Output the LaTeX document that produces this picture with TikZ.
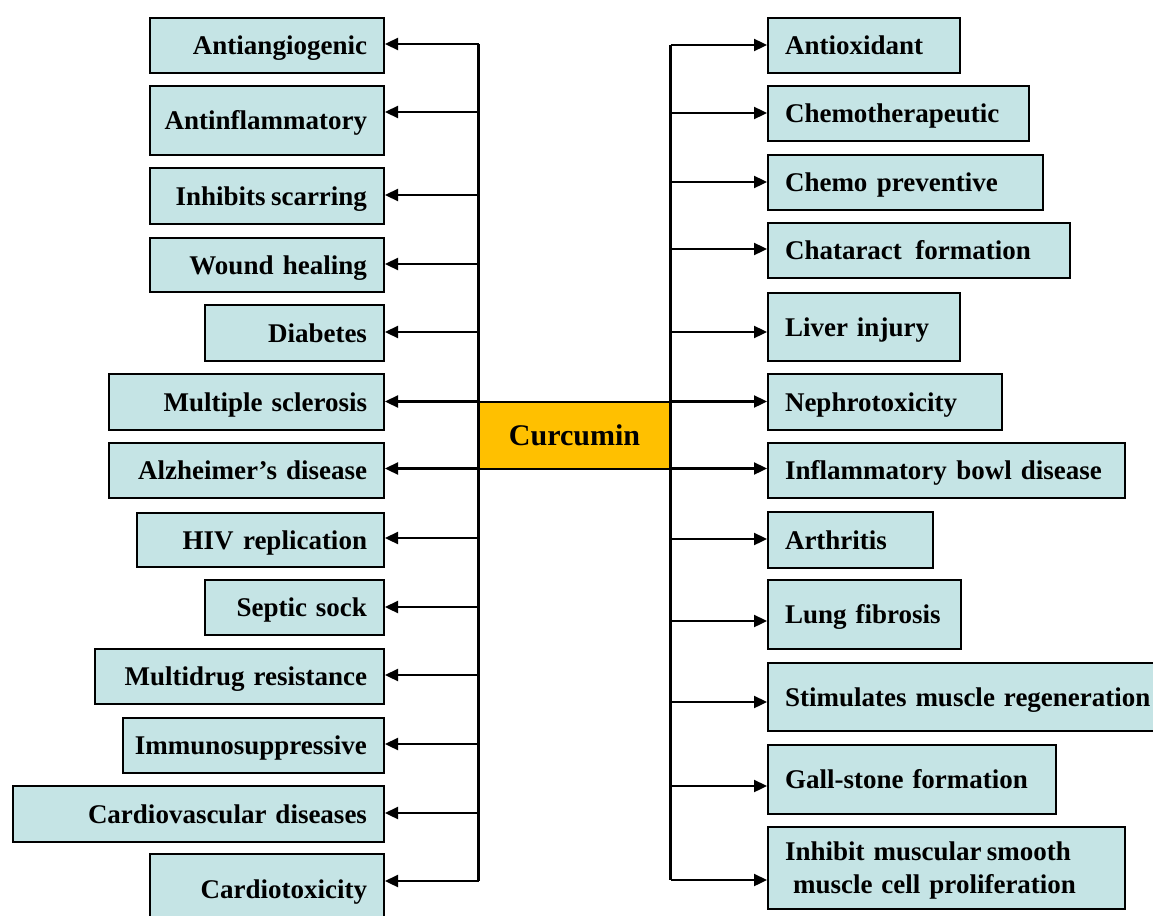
\documentclass[tikz,border=0pt]{standalone}
\usepackage{fontspec}
\setmainfont{Liberation Serif}
\usetikzlibrary{arrows.meta}
\hyphenpenalty=10000
\definecolor{boxfill}{RGB}{197,228,229}
\definecolor{curfill}{RGB}{255,192,0}
\tikzset{
  basebox/.style={draw=black, line width=2pt, fill=boxfill, inner xsep=17pt, inner ysep=0pt,
    font=\fontsize{27}{33}\selectfont\bfseries, anchor=north west},
  lbox/.style={basebox, align=right, text height=24pt, text depth=6pt},
  rbox/.style={basebox, align=left, text height=24pt, text depth=6pt},
  rboxtwo/.style={basebox, align=left, text height=24pt},
  conn/.style={line width=2.3pt, -{Triangle[length=13pt,width=12pt]}},
  trunk/.style={line width=2.3pt},
  curbox/.style={draw=black, line width=2pt, fill=curfill, minimum width=191pt, minimum height=67pt,
    inner sep=0pt, font=\fontsize{30}{36}\selectfont\bfseries}
}
% #1 name, #2 x1, #3 y1, #4 x2, #5 y2, #6 text
\newcommand{\LBox}[6]{%
  \pgfmathsetmacro{\mytw}{#4-#2-34}%
  \pgfmathsetmacro{\myht}{#5-#3}%
  \node[lbox, text width=\mytw pt, minimum height=\myht pt] (#1) at (#2,#3) {\hbox to \linewidth{\hss #6}};}
\newcommand{\RBox}[6]{%
  \pgfmathsetmacro{\mytw}{#4-#2-34}%
  \pgfmathsetmacro{\myht}{#5-#3}%
  \node[rbox, text width=\mytw pt, minimum height=\myht pt] (#1) at (#2,#3) {\hbox to \linewidth{#6\hss}};}
\begin{document}
\begin{tikzpicture}[x=1pt,y=-1pt]
\useasboundingbox (0,0) rectangle (1153,915);
% trunk coordinates
\coordinate (tL1) at (478.5,44);
\coordinate (tL2) at (478.5,112);
\coordinate (tL3) at (478.5,195);
\coordinate (tL4) at (478.5,264);
\coordinate (tL5) at (478.5,332);
\coordinate (tL6) at (478.5,401.5);
\coordinate (tL7) at (478.5,468.5);
\coordinate (tL8) at (478.5,538);
\coordinate (tL9) at (478.5,607);
\coordinate (tL10) at (478.5,675);
\coordinate (tL11) at (478.5,744);
\coordinate (tL12) at (478.5,813);
\coordinate (tL13) at (478.5,881);
\coordinate (tR1) at (670.5,45);
\coordinate (tR2) at (670.5,113);
\coordinate (tR3) at (670.5,182);
\coordinate (tR4) at (670.5,249);
\coordinate (tR5) at (670.5,332);
\coordinate (tR6) at (670.5,401.5);
\coordinate (tR7) at (670.5,468.5);
\coordinate (tR8) at (670.5,539);
\coordinate (tR9) at (670.5,621);
\coordinate (tR10) at (670.5,702);
\coordinate (tR11) at (670.5,786);
\coordinate (tR12) at (670.5,880);
\draw[trunk] (tL1) -- (tL13);
\draw[trunk] (tR1) -- (tR12);
% left boxes
\LBox{a1}{149}{17}{383}{72}{Antiangiogenic}
\LBox{a2}{149}{85}{383}{154}{Antinflammatory}
\LBox{a3}{149}{167}{383}{223}{Inhibits\hspace{0.2em}scarring}
\LBox{a4}{149}{237}{383}{291}{Wound\hspace{0.35em}healing}
\LBox{a5}{204}{304}{383}{360}{Diabetes}
\LBox{a6}{108}{373}{383}{429}{Multiple sclerosis}
\LBox{a7}{108}{442}{383}{497}{Alzheimer’s disease}
\LBox{a8}{136}{512}{383}{566}{HIV\hspace{0.35em}replication}
\LBox{a9}{204}{579}{383}{634}{Septic sock}
\LBox{a10}{94}{648}{383}{703}{Multidrug resistance}
\LBox{a11}{122}{717}{383}{772}{Immunosuppressive}
\LBox{a12}{12}{785}{383}{841}{Cardiovascular diseases}
\LBox{a13}{149}{853}{383}{923}{Cardiotoxicity}
% right boxes
\RBox{b1}{767}{17}{959}{72}{Antioxidant}
\RBox{b2}{767}{85}{1028}{140}{Chemotherapeutic}
\RBox{b3}{767}{154}{1042}{209}{Chemo\hspace{0.35em}preventive}
\RBox{b4}{767}{222}{1069}{277}{Chataract\hspace{0.5em}formation}
\RBox{b5}{767}{292}{959}{360}{Liver injury}
\RBox{b6}{767}{373}{1001}{429}{Nephrotoxicity}
\RBox{b7}{767}{442}{1124}{497}{Inflammatory\hspace{0.35em}bowl disease}
\RBox{b8}{767}{511}{932}{567}{Arthritis}
\RBox{b9}{767}{579}{960}{648}{Lung fibrosis}
\RBox{b10}{767}{662}{1168}{730}{Stimulates muscle regeneration}
\RBox{b11}{767}{744}{1055}{813}{Gall-stone formation}
\node[rboxtwo, text width=323pt, minimum height=82pt] (b12) at (767,826)
  {Inhibit muscular\hspace{0.2em}smooth\\\hspace*{8pt}muscle cell proliferation};
% centre
\node[curbox] (cur) at (574.5,435) {Curcumin};
% connectors
\foreach \i in {1,...,13}{\draw[conn] (tL\i) -- (tL\i -| a\i.east);}
\foreach \i in {1,...,12}{\draw[conn] (tR\i) -- (tR\i -| b\i.west);}
\end{tikzpicture}
\end{document}
